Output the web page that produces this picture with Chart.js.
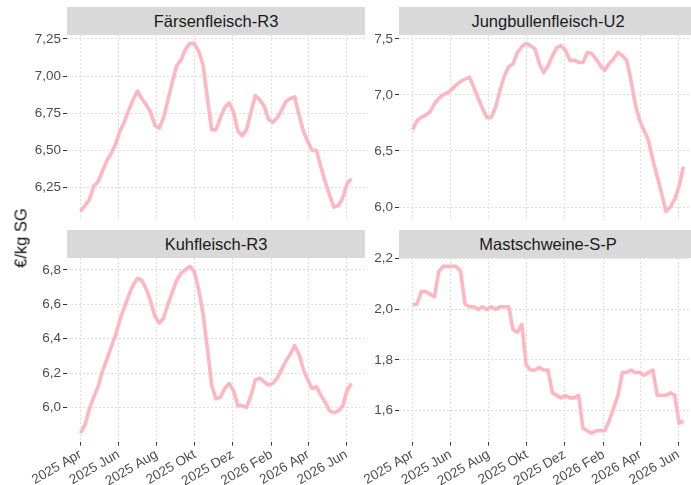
<!DOCTYPE html>
<html>
<head>
<meta charset="utf-8">
<script src="https://cdn.jsdelivr.net/npm/chart.js@4"></script>
<style>
  body { margin: 0; width: 691px; height: 485px; overflow: hidden; background: #fff; position: relative;
         font-family: 'Liberation Sans', Arial, sans-serif; }
  .strip { position: absolute; width: 298px; height: 28px; line-height: 28px; background: #d9d9d9;
           color: #1a1a1a; font-size: 16.5px; text-align: center; white-space: nowrap; }
  canvas { position: absolute; }
  #ytitle { position: absolute; left: 21px; top: 238px; transform: translate(-50%, -50%) rotate(-90deg);
            font-size: 16.5px; font-weight: normal; color: #111; white-space: nowrap; }
</style>
</head>
<body>
<canvas id="c1" width="365" height="223" style="left:0;top:7px"></canvas>
<canvas id="c2" width="352" height="223" style="left:345px;top:7px"></canvas>
<canvas id="c3" width="365" height="255" style="left:0;top:230px"></canvas>
<canvas id="c4" width="352" height="255" style="left:345px;top:230px"></canvas>
<div class="strip" style="left:67px;top:7px">Färsenfleisch-R3</div>
<div class="strip" style="left:399px;top:7px">Jungbullenfleisch-U2</div>
<div class="strip" style="left:67px;top:230px">Kuhfleisch-R3</div>
<div class="strip" style="left:399px;top:230px">Mastschweine-S-P</div>
<div id="ytitle">€/kg SG</div>
<script>
// weekly quotation dates
const weeks = [
  '2025-04-01','2025-04-08','2025-04-15','2025-04-22','2025-04-29','2025-05-06','2025-05-13','2025-05-20','2025-05-27',
  '2025-06-03','2025-06-10','2025-06-17','2025-06-24','2025-07-01','2025-07-08','2025-07-15','2025-07-22','2025-07-29',
  '2025-08-05','2025-08-12','2025-08-19','2025-08-26','2025-09-02','2025-09-09','2025-09-16','2025-09-23','2025-09-30',
  '2025-10-07','2025-10-14','2025-10-21','2025-10-28','2025-11-04','2025-11-11','2025-11-18','2025-11-25',
  '2025-12-02','2025-12-09','2025-12-16','2025-12-23','2025-12-30','2026-01-06','2026-01-13','2026-01-20','2026-01-27',
  '2026-02-03','2026-02-10','2026-02-17','2026-02-24','2026-03-03','2026-03-10','2026-03-17','2026-03-24','2026-03-31',
  '2026-04-07','2026-04-14','2026-04-21','2026-04-28','2026-05-05','2026-05-12','2026-05-19','2026-05-26',
  '2026-06-02','2026-06-09'
];

const faersen = [
  6.09, 6.13, 6.17, 6.26, 6.29, 6.36, 6.43, 6.48, 6.54, 6.63,
  6.69, 6.77, 6.84, 6.90, 6.85, 6.81, 6.76, 6.67, 6.65, 6.72,
  6.84, 6.96, 7.07, 7.11, 7.18, 7.22, 7.22, 7.17, 7.08, 6.86,
  6.64, 6.64, 6.72, 6.79, 6.82, 6.76, 6.63, 6.60, 6.64, 6.76,
  6.87, 6.84, 6.80, 6.71, 6.69, 6.72, 6.77, 6.83, 6.85, 6.86,
  6.74, 6.63, 6.56, 6.50, 6.50, 6.39, 6.29, 6.20, 6.12, 6.13,
  6.18, 6.28, 6.31
];
const jungbullen = [
  6.69, 6.77, 6.80, 6.82, 6.85, 6.92, 6.97, 7.00, 7.02, 7.05,
  7.09, 7.12, 7.14, 7.16, 7.07, 6.97, 6.88, 6.80, 6.80, 6.89,
  7.04, 7.17, 7.25, 7.28, 7.38, 7.43, 7.46, 7.44, 7.41, 7.28,
  7.20, 7.26, 7.35, 7.42, 7.44, 7.40, 7.31, 7.31, 7.29, 7.29,
  7.38, 7.37, 7.32, 7.26, 7.22, 7.28, 7.32, 7.38, 7.35, 7.31,
  7.13, 6.91, 6.77, 6.68, 6.59, 6.42, 6.27, 6.12, 5.96, 6.00,
  6.07, 6.19, 6.36
];
const kuh = [
  5.85, 5.90, 5.99, 6.06, 6.12, 6.21, 6.28, 6.35, 6.42, 6.51,
  6.58, 6.65, 6.71, 6.75, 6.74, 6.69, 6.62, 6.53, 6.49, 6.52,
  6.60, 6.67, 6.74, 6.78, 6.80, 6.82, 6.79, 6.69, 6.55, 6.35,
  6.13, 6.05, 6.06, 6.11, 6.14, 6.10, 6.01, 6.01, 6.00, 6.07,
  6.16, 6.17, 6.15, 6.13, 6.14, 6.17, 6.22, 6.27, 6.31, 6.36,
  6.31, 6.22, 6.16, 6.11, 6.12, 6.07, 6.03, 5.98, 5.97, 5.98,
  6.01, 6.10, 6.14
];
const mastschweine = [
  2.02, 2.02, 2.07, 2.07, 2.06, 2.05, 2.15, 2.17, 2.17, 2.17,
  2.17, 2.15, 2.02, 2.01, 2.01, 2.00, 2.01, 2.00, 2.01, 2.00,
  2.01, 2.01, 2.01, 1.92, 1.91, 1.94, 1.78, 1.76, 1.76, 1.77,
  1.76, 1.76, 1.67, 1.66, 1.65, 1.66, 1.65, 1.65, 1.66, 1.53,
  1.52, 1.51, 1.52, 1.52, 1.52, 1.56, 1.61, 1.66, 1.75, 1.75,
  1.76, 1.75, 1.75, 1.74, 1.75, 1.76, 1.66, 1.66, 1.66, 1.67,
  1.66, 1.55, 1.56
];

const monthTicks = ['2025-04-01', '2025-06-01', '2025-08-01', '2025-10-01', '2025-12-01', '2026-02-01', '2026-04-01', '2026-06-01'];
const monthLabels = ['2025 Apr', '2025 Jun', '2025 Aug', '2025 Okt', '2025 Dez', '2026 Feb', '2026 Apr', '2026 Jun'];

const yTicksFaersen = [6.25, 6.5, 6.75, 7.0, 7.25];
const yTicksJung = [6.0, 6.5, 7.0, 7.5];
const yTicksKuh = [6.0, 6.2, 6.4, 6.6, 6.8];
const yTicksMast = [1.6, 1.8, 2.0, 2.2];

Chart.defaults.font.family = "'Liberation Sans', Arial, sans-serif";
Chart.defaults.animation = false;

const DAY = 86400000;
const t0 = Date.parse(weeks[0]);
const toDay = s => (Date.parse(s) - t0) / DAY;
const xs = weeks.map(toDay);
const tickDays = monthTicks.map(toDay);
const xSpan = xs[xs.length - 1] - xs[0];
const xMin = xs[0] - 0.05 * xSpan, xMax = xs[xs.length - 1] + 0.05 * xSpan;

// top row: x axis hidden, reserve 10px below so y label overflow does not shrink the panel
function panel(id, values, yTicks, dec, yWidth, showX) {
  const lo = Math.min(...values), hi = Math.max(...values), pad = (hi - lo) * 0.05;
  new Chart(document.getElementById(id), {
    type: 'line',
    data: { datasets: [{
      data: values.map((v, i) => ({ x: xs[i], y: v })),
      borderColor: '#ffb6c1', borderWidth: 3.6, borderJoinStyle: 'round', borderCapStyle: 'butt',
      pointRadius: 0, tension: 0, fill: false
    }] },
    options: {
      responsive: false,
      layout: { padding: { top: 28, left: 0, right: 0, bottom: 0 } },
      plugins: { legend: { display: false }, tooltip: { enabled: false } },
      scales: {
        x: {
          type: 'linear', min: xMin, max: xMax,
          afterBuildTicks: s => { s.ticks = tickDays.map(v => ({ value: v })); },
          afterFit: s => { s.height = showX ? 43.4 : 10; },
          grid: { color: '#dedede', lineWidth: 1, drawTicks: showX, tickLength: 4, tickColor: '#333', tickWidth: 1, tickBorderDash: [] },
          border: { display: false, dash: [2, 2] },
          ticks: { display: showX, autoSkip: false, minRotation: 30, maxRotation: 30, padding: 1,
            color: '#4d4d4d', font: { size: 13.5 }, callback: (v, i) => monthLabels[i] }
        },
        y: {
          min: lo - pad, max: hi + pad,
          afterBuildTicks: s => { s.ticks = yTicks.map(v => ({ value: v })); },
          afterFit: s => { s.width = yWidth; },
          grid: { color: '#dedede', lineWidth: 1, drawTicks: true, tickLength: 4, tickColor: '#333', tickWidth: 1, tickBorderDash: [] },
          border: { display: false, dash: [2, 2] },
          ticks: { padding: 2, color: '#4d4d4d', font: { size: 13.5 },
            callback: v => v.toFixed(dec).replace('.', ',') }
        }
      }
    }
  });
}

panel('c1', faersen, yTicksFaersen, 2, 67, false);
panel('c2', jungbullen, yTicksJung, 1, 54, false);
panel('c3', kuh, yTicksKuh, 1, 67, true);
panel('c4', mastschweine, yTicksMast, 1, 54, true);
</script>
</body>
</html>
